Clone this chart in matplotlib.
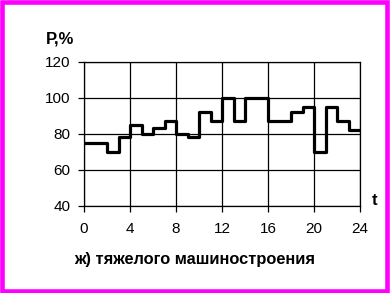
import matplotlib
matplotlib.use("Agg")
import matplotlib.pyplot as plt
from matplotlib.patches import Rectangle

# hourly load of heavy engineering, % of peak
hours = list(range(25))
load = [75, 75, 70, 78, 85, 80, 83, 87, 80, 78, 92, 87,
        100, 87, 100, 100, 87, 87, 92, 95, 70, 95, 87, 82]
xticks = [0, 4, 8, 12, 16, 20, 24]
yticks = [40, 60, 80, 100, 120]

plt.rcParams['font.family'] = ['Liberation Sans', 'DejaVu Sans']

fig = plt.figure(figsize=(3.91, 2.93), dpi=100)
ax = fig.add_axes([0.215, 0.298, 0.706, 0.491])

ax.step(hours, load + [load[-1]], where='post', color='black', lw=2.3)

ax.set_xlim(0, 24)
ax.set_ylim(40, 120)
ax.set_xticks(xticks)
ax.set_yticks(yticks)
ax.grid(True, color='black', lw=0.9)
for s in ax.spines.values():
    s.set_color('black')
    s.set_linewidth(0.9)
ax.tick_params(direction='out', length=4, width=0.9, labelsize=11)
ax.tick_params(axis='x', pad=8)
ax.tick_params(axis='y', pad=6)

fig.text(0.117, 0.85, 'P,%', fontsize=12, fontweight='bold')
fig.text(0.95, 0.30, 't', fontsize=12, fontweight='bold')
fig.text(0.497, 0.10, 'ж) тяжелого машиностроения', fontsize=11.8,
         fontweight='bold', ha='center')

fig.patches.append(Rectangle((0.006, 0.008), 0.984, 0.984, transform=fig.transFigure,
                             fill=False, edgecolor='#ff00ff', lw=3.3))

fig.savefig('out.png', dpi=100)
